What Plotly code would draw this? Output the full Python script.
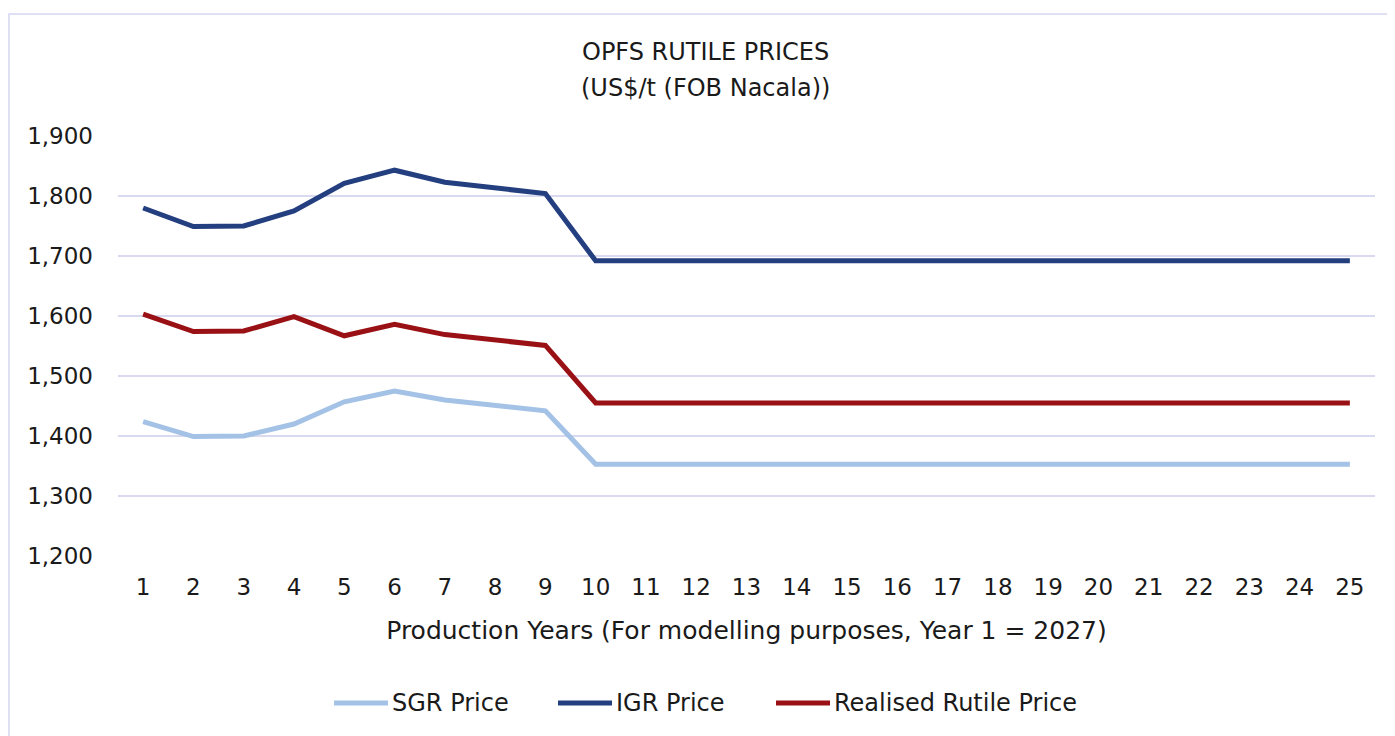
import plotly.graph_objects as go

years = [str(i) for i in range(1, 26)]
sgr_price = [1424, 1399, 1400, 1420, 1457, 1475, 1460, 1452, 1442] + [1353] * 16
igr_price = [1780, 1749, 1750, 1775, 1821, 1843, 1823, 1814, 1804] + [1692] * 16
realised_price = [1603, 1574, 1575, 1599, 1567, 1586, 1569, 1560, 1551] + [1455] * 16

series_names = ["SGR Price", "IGR Price", "Realised Rutile Price"]
series_colors = ["#A4C2E6", "#243F7F", "#9A1115"]
title_line1 = "OPFS RUTILE PRICES"
title_line2 = "(US$/t (FOB Nacala))"

FONT = "DejaVu Sans"
TXT = "#1a1a1a"

# plot area geometry (pixels in the page) used to place legend/title in paper coords
PL, PW, PB, PH = 118, 1257, 556, 420


def px_x(px):
    return (px - PL) / PW


def px_y(py):
    return (PB - py) / PH


fig = go.Figure()
for name, vals, col in zip(series_names, [sgr_price, igr_price, realised_price], series_colors):
    fig.add_trace(go.Scatter(x=years, y=vals, name=name, mode="lines",
                             line=dict(color=col, width=5), showlegend=False))

# custom legend (long line keys as in the reference)
legend_starts = [334, 558, 776]
key_len = 54
shapes = [dict(type="rect", xref="paper", yref="paper", x0=-0.0867, x1=1.1,
               y0=-0.5, y1=1.2905, line=dict(color="#D6D6F2", width=1.5),
               fillcolor="rgba(0,0,0,0)", layer="below")]
annotations = [
    dict(text=title_line1, xref="paper", yref="paper", x=px_x(705), y=px_y(52),
         xanchor="center", yanchor="middle", showarrow=False,
         font=dict(family=FONT, size=24, color=TXT)),
    dict(text=title_line2, xref="paper", yref="paper", x=px_x(705), y=px_y(88),
         xanchor="center", yanchor="middle", showarrow=False,
         font=dict(family=FONT, size=24, color=TXT)),
]
for name, col, x0 in zip(series_names, series_colors, legend_starts):
    shapes.append(dict(type="line", xref="paper", yref="paper",
                       x0=px_x(x0), x1=px_x(x0 + key_len), y0=px_y(703), y1=px_y(703),
                       line=dict(color=col, width=5)))
    annotations.append(dict(text=name, xref="paper", yref="paper",
                            x=px_x(x0 + key_len + 2), y=px_y(703),
                            xanchor="left", yanchor="middle", showarrow=False,
                            font=dict(family=FONT, size=24, color=TXT)))

fig.update_layout(
    width=1387, height=728,
    margin=dict(l=110, r=20, t=128, b=180),
    paper_bgcolor="white", plot_bgcolor="white",
    font=dict(family=FONT, size=23, color=TXT),
    showlegend=False,
    xaxis=dict(type="category", range=[-0.5, 24.5], showgrid=False, showline=False,
               zeroline=False, ticks="", ticklabelstandoff=15,
               tickfont=dict(family=FONT, size=23, color=TXT),
               title=dict(text="Production Years (For modelling purposes, Year 1 = 2027)",
                          font=dict(family=FONT, size=25, color=TXT), standoff=22)),
    yaxis=dict(range=[1200, 1900], dtick=100, tickformat=",", showgrid=True,
               gridcolor="#D9D9EF", gridwidth=1.5, zeroline=False, showline=False,
               ticks="", ticklabelstandoff=24,
               tickfont=dict(family=FONT, size=23, color=TXT)),
    annotations=annotations,
    shapes=shapes,
)

fig.write_html("out.html")
